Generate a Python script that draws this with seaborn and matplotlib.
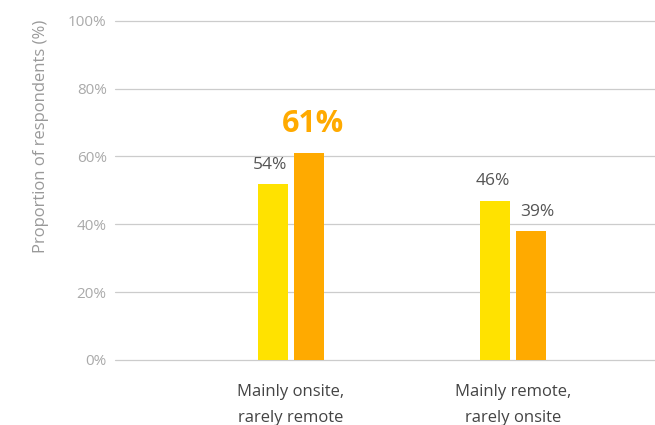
import pandas as pd
import matplotlib.pyplot as plt
import seaborn as sns

# Data
categories = ["Mainly onsite,\nrarely remote", "Mainly remote,\nrarely onsite"]
groups = ["A", "B"]
bar_values = [52, 61, 47, 38]          # bar heights as drawn
bar_labels = ["54%", "61%", "46%", "39%"]  # printed labels
y_ticks = [0, 20, 40, 60, 80, 100]

df = pd.DataFrame({
    "category": [categories[0], categories[0], categories[1], categories[1]],
    "group": groups * 2,
    "value": bar_values,
})

sns.set_theme(style="white")
plt.rcParams['font.family'] = ['Open Sans', 'DejaVu Sans']

fig = plt.figure(figsize=(6.55, 4.25), dpi=100)
ax = fig.add_axes([0.1756, 0.153, 0.8244, 0.798])

sns.barplot(
    data=df, x="category", y="value", hue="group",
    palette={"A": "#FFE200", "B": "#FFAA00"}, saturation=1,
    width=0.324, gap=0.167, legend=False, ax=ax,
)

for p in ax.patches:
    p.set_linewidth(0)

# value labels
bars = sorted(ax.patches, key=lambda p: p.get_x())
for p, lab in zip(bars, bar_labels):
    cx = p.get_x() + p.get_width() / 2
    top = p.get_height()
    if lab == "61%":
        ax.annotate(lab, (cx + 0.02, top), xytext=(0, 10), textcoords="offset points",
                    ha="center", va="bottom", fontsize=22, fontweight="bold", color="#FFAA00")
    elif lab == "39%":
        ax.annotate(lab, (cx + 0.03, top), xytext=(0, 8), textcoords="offset points",
                    ha="center", va="bottom", fontsize=12.5, color="#555555")
    else:
        ax.annotate(lab, (cx - 0.01, top), xytext=(0, 8), textcoords="offset points",
                    ha="center", va="bottom", fontsize=12.5, color="#555555")

ax.set_xlim(-0.79, 1.64)
ax.set_ylim(0, 100)
ax.set_yticks(y_ticks)
ax.set_yticklabels([f"{t}%" for t in y_ticks])
ax.yaxis.grid(True, color="#cccccc", linewidth=0.9)
for gl in ax.get_ygridlines():
    gl.set_clip_on(False)
ax.set_axisbelow(True)
for s in ax.spines.values():
    s.set_visible(False)

ax.tick_params(axis="y", length=0, pad=6, labelsize=11, labelcolor="#aaaaaa")
ax.tick_params(axis="x", length=0, pad=17, labelsize=12, labelcolor="#444444")
for t in ax.get_xticklabels():
    t.set_linespacing(1.85)
    t.set_va("top")

ax.set_xlabel("")
ax.set_ylabel("Proportion of respondents (%)", fontsize=12, color="#999999")
ax.yaxis.set_label_coords(-0.122, 0.658)

fig.savefig("out.png", dpi=100)
